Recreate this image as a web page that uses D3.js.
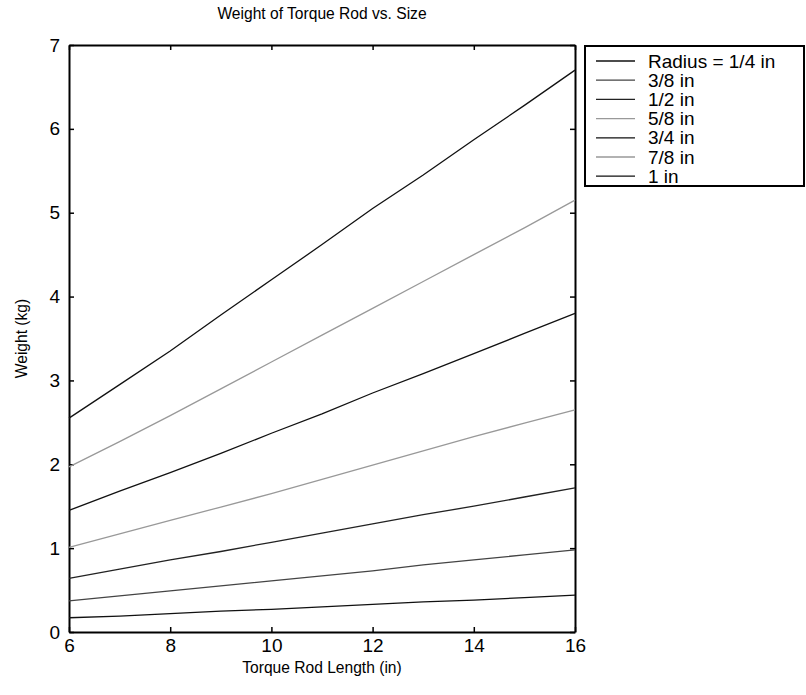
<!DOCTYPE html>
<html>
<head>
<meta charset="utf-8">
<script src="https://cdn.jsdelivr.net/npm/d3@7"></script>
<style>
  body { margin: 0; background: #fff; }
  svg { font-family: "Liberation Sans", Arial, sans-serif; }
</style>
</head>
<body>
<svg id="grafico" width="806" height="695"></svg>
<script>
// Datos
var longitudes = [6, 7, 8, 9, 10, 11, 12, 13, 14, 15, 16];
var radios = ["Radius = 1/4 in", "3/8 in", "1/2 in", "5/8 in", "3/4 in", "7/8 in", "1 in"];
var peso_1_4 = [0.17, 0.19, 0.22, 0.25, 0.27, 0.30, 0.33, 0.36, 0.38, 0.41, 0.44];
var peso_3_8 = [0.37, 0.43, 0.49, 0.55, 0.61, 0.67, 0.73, 0.80, 0.86, 0.92, 0.98];
var peso_1_2 = [0.64, 0.75, 0.86, 0.96, 1.07, 1.18, 1.29, 1.40, 1.50, 1.61, 1.72];
var peso_5_8 = [1.01, 1.17, 1.33, 1.49, 1.65, 1.82, 1.99, 2.16, 2.33, 2.49, 2.65];
var peso_3_4 = [1.45, 1.68, 1.90, 2.13, 2.37, 2.60, 2.85, 3.08, 3.32, 3.56, 3.80];
var peso_7_8 = [1.97, 2.27, 2.58, 2.90, 3.22, 3.54, 3.86, 4.18, 4.50, 4.82, 5.15];
var peso_1 = [2.55, 2.95, 3.35, 3.78, 4.20, 4.62, 5.05, 5.45, 5.87, 6.28, 6.70];
var series = [peso_1_4, peso_3_8, peso_1_2, peso_5_8, peso_3_4, peso_7_8, peso_1];
var ticksX = [6, 8, 10, 12, 14, 16];
var ticksY = [0, 1, 2, 3, 4, 5, 6, 7];
var colores = ["#111", "#444", "#222", "#999", "#111", "#999", "#111"];

var svg = d3.select("#grafico");
var izq = 69, der = 575, arriba = 45, abajo = 632;

var x = d3.scaleLinear().domain([6, 16]).range([izq, der]);
var y = d3.scaleLinear().domain([0, 7]).range([abajo, arriba]);

// Ejes con ticks hacia dentro (estilo caja)
function estiloEje(g) {
    g.attr("font-size", null).attr("font-family", null);
    g.select(".domain").attr("stroke", "#000").attr("stroke-width", 2);
    g.selectAll(".tick line").attr("stroke", "#000").attr("stroke-width", 1.5);
    g.selectAll(".tick text").attr("fill", "#000").style("font-size", "19px");
}
svg.append("g")
    .attr("transform", "translate(0," + abajo + ")")
    .call(d3.axisBottom(x).tickValues(ticksX).tickFormat(d3.format("d")).tickSize(-5).tickSizeOuter(0).tickPadding(7))
    .call(estiloEje);
svg.append("g")
    .attr("transform", "translate(0," + arriba + ")")
    .call(d3.axisTop(x).tickValues(ticksX).tickSize(-5).tickSizeOuter(0).tickFormat(""))
    .call(estiloEje);
svg.append("g")
    .attr("transform", "translate(" + izq + ",0)")
    .call(d3.axisLeft(y).tickValues(ticksY).tickFormat(d3.format("d")).tickSize(-5).tickSizeOuter(0).tickPadding(9))
    .call(estiloEje);
svg.append("g")
    .attr("transform", "translate(" + der + ",0)")
    .call(d3.axisRight(y).tickValues(ticksY).tickSize(-5).tickSizeOuter(0).tickFormat(""))
    .call(estiloEje);

// Lineas
var linea = d3.line()
    .x((d, i) => x(longitudes[i]))
    .y(d => y(d));
svg.append("g").selectAll("path")
    .data(series)
    .enter()
    .append("path")
    .attr("d", linea)
    .attr("fill", "none")
    .attr("stroke", (d, i) => colores[i])
    .attr("stroke-width", 1.3);

// Titulos
svg.append("text")
    .attr("x", (izq + der) / 2)
    .attr("y", 19)
    .attr("text-anchor", "middle")
    .style("font-size", "15.6px")
    .text("Weight of Torque Rod vs. Size");
svg.append("text")
    .attr("x", (izq + der) / 2)
    .attr("y", 673)
    .attr("text-anchor", "middle")
    .style("font-size", "15.6px")
    .text("Torque Rod Length (in)");
svg.append("text")
    .attr("transform", "translate(27," + (arriba + abajo) / 2 + ") rotate(-90)")
    .attr("text-anchor", "middle")
    .style("font-size", "15.6px")
    .text("Weight (kg)");

// Leyenda
var leyenda = svg.append("g");
leyenda.append("rect")
    .attr("x", 585)
    .attr("y", 46)
    .attr("width", 219)
    .attr("height", 140)
    .attr("fill", "#fff")
    .attr("stroke", "#000")
    .attr("stroke-width", 2);
var filas = leyenda.selectAll("g.fila")
    .data(radios)
    .enter()
    .append("g")
    .attr("class", "fila")
    .attr("transform", (d, i) => "translate(0," + (61 + i * 19.2) + ")");
filas.append("line")
    .attr("x1", 596)
    .attr("x2", 635)
    .attr("stroke", (d, i) => colores[i])
    .attr("stroke-width", 1.3);
filas.append("text")
    .attr("x", 648)
    .attr("dy", "0.35em")
    .style("font-size", "19px")
    .text(d => d);
</script>
</body>
</html>
